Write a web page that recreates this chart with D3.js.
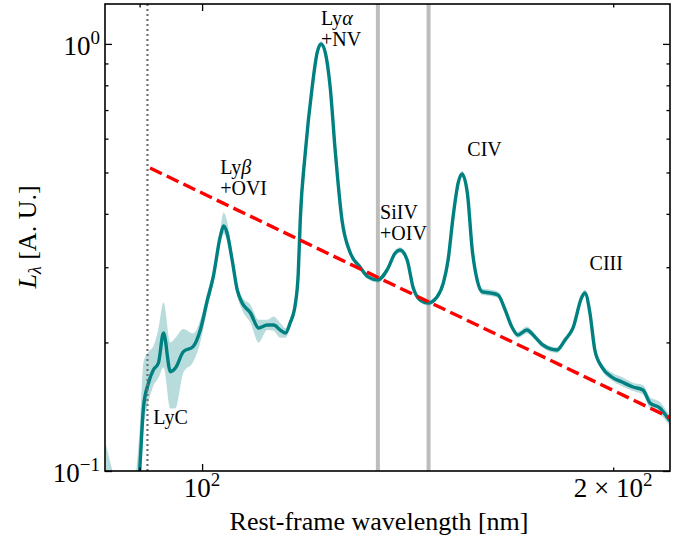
<!DOCTYPE html>
<html>
<head>
<meta charset="utf-8">
<script src="https://cdn.jsdelivr.net/npm/d3@7"></script>
<style>
  body { margin: 0; background: #fff; }
  svg { display: block; }
  text { font-family: "Liberation Serif", "DejaVu Serif", serif; fill: #000; }
</style>
</head>
<body>
<svg id="chart" width="689" height="541"></svg>
<script>
// ---------------- data ----------------
const wavelength = [85.0, 86.0, 87.5, 89.0, 90.0, 90.6, 91.35, 92.1, 92.9, 93.7, 94.8, 95.6, 96.9, 98.5, 99.7,
  100.9, 101.9, 103.1, 103.7, 104.3, 105.2, 106.1, 107.0, 108.5, 110.0, 111.6, 112.8, 114.1, 115.1, 116.0,
  117.0, 117.6, 118.0, 119.0, 120.4, 121.4, 122.2, 123.1, 124.1, 125.2, 126.6, 128.4, 130.5, 132.3, 134.5,
  136.6, 138.5, 139.6, 141.3, 142.7, 144.4, 146.4, 148.6, 150.2, 151.4, 152.7, 154.0, 155.0, 156.4, 157.7,
  159.0, 160.4, 162.5, 164.7, 166.7, 168.6, 170.3, 172.9, 175.3, 177.6, 181.9, 184.4, 186.9, 189.7, 190.7,
  192.3, 193.9, 196.2, 199.5, 203.0, 206.8, 210.3, 212.8, 216.4, 219.0, 220.1];
const flux = [0.072, 0.060, 0.055, 0.070, 0.100, 0.1414, 0.1605, 0.1723, 0.179, 0.2104, 0.1708, 0.1742, 0.1903, 0.1955, 0.2138,
  0.2515, 0.2848, 0.3532, 0.3748, 0.3609, 0.3119, 0.2654, 0.2474, 0.2344, 0.2162, 0.2197, 0.2197, 0.2138, 0.2104, 0.2221,
  0.245, 0.29, 0.3871, 0.5555, 0.7931, 0.9526, 1.0, 0.9526, 0.7931, 0.5555, 0.3871, 0.3239, 0.3004, 0.2848, 0.2802,
  0.2956, 0.3239, 0.3292, 0.3119, 0.2698, 0.2515, 0.2474, 0.2556, 0.2757, 0.3119, 0.395, 0.4726, 0.4961, 0.4477, 0.3292,
  0.2802, 0.2626, 0.2612, 0.2584, 0.2382, 0.2173, 0.2082, 0.2138, 0.206, 0.1973, 0.192, 0.2026, 0.2162, 0.2556, 0.2612,
  0.2344, 0.192, 0.1752, 0.166, 0.1616, 0.1573, 0.1548, 0.1443, 0.1405, 0.1338, 0.131];
const fluxLow = [0.045, 0.040, 0.040, 0.050, 0.085, 0.125, 0.145, 0.158, 0.165, 0.175, 0.140, 0.140, 0.170, 0.180, 0.200,
  0.240, 0.275, 0.342, 0.360, 0.345, 0.300, 0.257, 0.238, 0.222, 0.200, 0.214, 0.213, 0.205, 0.205, 0.217,
  0.240, 0.285, 0.381, 0.547, 0.781, 0.938, 0.985, 0.938, 0.781, 0.547, 0.381, 0.319, 0.296, 0.281, 0.276,
  0.291, 0.319, 0.324, 0.307, 0.266, 0.248, 0.244, 0.252, 0.272, 0.307, 0.389, 0.466, 0.488, 0.441, 0.324,
  0.276, 0.258, 0.257, 0.254, 0.234, 0.214, 0.205, 0.210, 0.203, 0.194, 0.189, 0.200, 0.213, 0.251, 0.257,
  0.231, 0.189, 0.172, 0.163, 0.158, 0.154, 0.151, 0.140, 0.136, 0.130, 0.127];
const fluxHigh = [0.116, 0.100, 0.085, 0.090, 0.125, 0.180, 0.190, 0.196, 0.215, 0.248, 0.200, 0.205, 0.215, 0.210, 0.226,
  0.262, 0.296, 0.368, 0.403, 0.385, 0.325, 0.275, 0.255, 0.245, 0.226, 0.226, 0.230, 0.222, 0.216, 0.228,
  0.250, 0.295, 0.393, 0.564, 0.805, 0.967, 1.015, 0.967, 0.805, 0.564, 0.393, 0.329, 0.305, 0.289, 0.284,
  0.300, 0.329, 0.334, 0.317, 0.274, 0.255, 0.251, 0.259, 0.280, 0.317, 0.401, 0.480, 0.504, 0.455, 0.334,
  0.284, 0.267, 0.266, 0.263, 0.242, 0.221, 0.212, 0.218, 0.209, 0.200, 0.195, 0.206, 0.220, 0.260, 0.266,
  0.238, 0.195, 0.179, 0.170, 0.166, 0.161, 0.159, 0.149, 0.145, 0.138, 0.135];

// continuum power law (two end points)
const contWave = [91.6, 220.1];
const contFlux = [0.512, 0.1333];

// reference wavelengths
const lycWave = 91.2;
const windowWaves = [134.5, 146.5];

// line labels
const labels = [
  { lines: ["Ly|β", "+OVI"], wave: 103.1, flux: 0.496 },
  { lines: ["Ly|α", "+NV"], wave: 122.2, flux: 1.105 },
  { lines: ["SiIV", "+OIV"], wave: 135.0, flux: 0.39 },
  { lines: ["CIV"], wave: 156.4, flux: 0.547 },
  { lines: ["CIII"], wave: 192.2, flux: 0.296 },
  { lines: ["LyC"], wave: 92.1, flux: 0.129 }
];

// ticks
const xMajorTicks = [100];
const xMinorTicks = [90, 200];
const xTickLabels = [{ v: 100, pre: "", base: "10", sup: "2" }, { v: 200, pre: "2 × ", base: "10", sup: "2" }];
const yMajorTicks = [0.1, 1];
const yMinorTicks = [0.2, 0.3, 0.4, 0.5, 0.6, 0.7, 0.8, 0.9];
const yTickLabels = [{ v: 1, base: "10", sup: "0" }, { v: 0.1, base: "10", sup: "−1" }];

// ---------------- layout ----------------
const L = 105, R = 670, T = 4, B = 471;
const svg = d3.select("#chart");
const x = d3.scaleLog().domain([84.9, 220.1]).range([L, R]);
const y = d3.scaleLog().domain([0.1, 1.24]).range([B, T]);

svg.append("defs").append("clipPath").attr("id", "clip")
  .append("rect").attr("x", L).attr("y", T).attr("width", R - L).attr("height", B - T);
const plot = svg.append("g").attr("clip-path", "url(#clip)");

// gray window lines
plot.selectAll("line.win").data(windowWaves).join("line")
  .attr("x1", d => x(d)).attr("x2", d => x(d)).attr("y1", T).attr("y2", B)
  .attr("stroke", "#bdbdbd").attr("stroke-width", 4);

const pts = wavelength.map((w, i) => ({ w, f: flux[i], lo: fluxLow[i], hi: fluxHigh[i] }));

plot.append("path").datum(pts)
  .attr("d", d3.area().x(d => x(d.w)).y0(d => y(d.lo)).y1(d => y(d.hi)).curve(d3.curveMonotoneX))
  .attr("fill", "#008080").attr("fill-opacity", 0.28);

plot.append("path").datum(pts)
  .attr("d", d3.line().x(d => x(d.w)).y(d => y(d.f)).curve(d3.curveMonotoneX))
  .attr("fill", "none").attr("stroke", "#008080").attr("stroke-width", 3.4)
  .attr("stroke-linejoin", "round");

// continuum
plot.append("path").datum(contWave.map((w, i) => ({ w, f: contFlux[i] })))
  .attr("d", d3.line().x(d => x(d.w)).y(d => y(d.f)))
  .attr("fill", "none").attr("stroke", "#ff0000").attr("stroke-width", 3.4)
  .attr("stroke-dasharray", "13,5.5");

// LyC limit
plot.append("line")
  .attr("x1", x(lycWave)).attr("x2", x(lycWave)).attr("y1", T).attr("y2", B)
  .attr("stroke", "#707070").attr("stroke-width", 2.2).attr("stroke-dasharray", "2,3");

// labels
labels.forEach(lb => {
  lb.lines.forEach((ln, k) => {
    const t = svg.append("text")
      .attr("x", x(lb.wave)).attr("y", y(lb.flux) + k * 21)
      .attr("font-size", 20);
    const parts = ln.split("|");
    t.append("tspan").text(parts[0]);
    if (parts[1]) t.append("tspan").attr("font-style", "italic").text(parts[1]);
  });
});

// axes frame
svg.append("rect").attr("x", L).attr("y", T).attr("width", R - L).attr("height", B - T)
  .attr("fill", "none").attr("stroke", "#000").attr("stroke-width", 1.6);

function ticks(vals, len) {
  svg.append("g").attr("transform", `translate(0,${B})`)
    .call(d3.axisBottom(x).tickValues(vals).tickSize(-len).tickFormat(""))
    .call(g => g.select(".domain").remove());
  svg.append("g").attr("transform", `translate(0,${T})`)
    .call(d3.axisTop(x).tickValues(vals).tickSize(-len).tickFormat(""))
    .call(g => g.select(".domain").remove());
}
function yticks(vals, len) {
  svg.append("g").attr("transform", `translate(${L},0)`)
    .call(d3.axisLeft(y).tickValues(vals).tickSize(-len).tickFormat(""))
    .call(g => g.select(".domain").remove());
  svg.append("g").attr("transform", `translate(${R},0)`)
    .call(d3.axisRight(y).tickValues(vals).tickSize(-len).tickFormat(""))
    .call(g => g.select(".domain").remove());
}
ticks(xMajorTicks, 7);
ticks(xMinorTicks, 3.5);
yticks(yMajorTicks, 7);
yticks(yMinorTicks, 3.5);
svg.selectAll(".tick line").attr("stroke", "#000").attr("stroke-width", 1.3);

// tick labels
xTickLabels.forEach(d => {
  const t = svg.append("text").attr("x", x(d.v)).attr("y", 497)
    .attr("text-anchor", "middle").attr("font-size", 27);
  t.append("tspan").text(d.pre + d.base);
  t.append("tspan").attr("font-size", 19).attr("dy", -11).text(d.sup);
});
yTickLabels.forEach(d => {
  const t = svg.append("text").attr("x", 100).attr("y", y(d.v) + 11)
    .attr("text-anchor", "end").attr("font-size", 27);
  t.append("tspan").text(d.base);
  t.append("tspan").attr("font-size", 19).attr("dy", -11).text(d.sup);
});

// axis titles
svg.append("text").attr("x", 379).attr("y", 530).attr("text-anchor", "middle")
  .attr("font-size", 26).text("Rest-frame wavelength [nm]");
const yl = svg.append("text").attr("transform", "translate(36,237) rotate(-90)")
  .attr("text-anchor", "middle").attr("font-size", 26);
yl.append("tspan").attr("font-style", "italic").text("L");
yl.append("tspan").attr("font-size", 18).attr("font-style", "italic").attr("dy", 5).text("λ");
yl.append("tspan").attr("dy", -5).text(" [A. U.]");
</script>
</body>
</html>
